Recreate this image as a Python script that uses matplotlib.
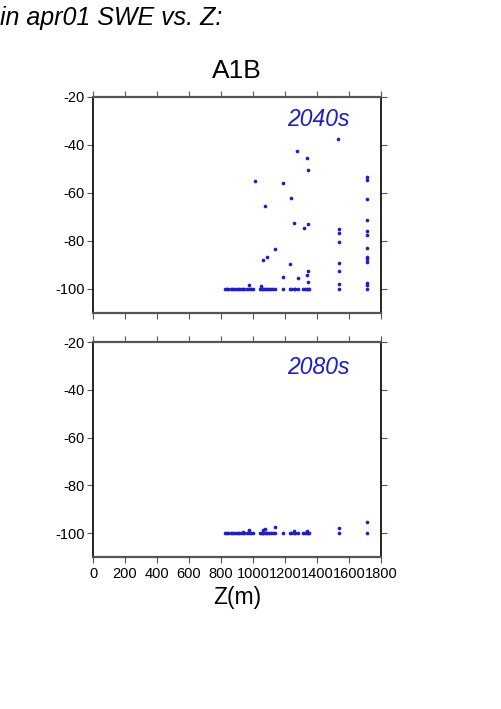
import matplotlib
matplotlib.use("Agg")
import matplotlib.pyplot as plt

plt.rcParams['font.family'] = ['Liberation Sans', 'DejaVu Sans']
plt.rcParams['axes.unicode_minus'] = False

# ---- data ----
# 2040s panel: elevation (m) and % change in apr01 SWE
z_2040_floor = [825, 835, 845, 860, 870, 880, 895, 905, 915, 925, 935, 945, 960,
                975, 990, 1000, 1045, 1055, 1060, 1070, 1080, 1090, 1100, 1110,
                1125, 1140, 1190, 1230, 1240, 1255, 1265, 1280, 1315, 1325, 1335,
                1345, 1350, 1535, 1710]
z_2040_other = [1533, 1277, 1335, 1344, 1012, 1187, 1710, 1710, 1235, 1710, 1073,
                1258, 1319, 1344, 1535, 1535, 1535, 1710, 1710, 1710, 1710, 1710,
                1710, 1710, 1135, 1090, 1062, 1233, 1535, 1535, 1344, 1335, 1190,
                1279, 1344, 973, 1535, 1710, 1710, 1052]
d_2040_other = [-37.6, -42.5, -45.4, -50.6, -54.9, -55.7, -53.5, -54.6, -62.2, -62.4,
                -65.4, -72.5, -74.5, -72.9, -75.0, -76.7, -80.3, -71.3, -75.7, -77.4,
                -82.8, -86.5, -87.5, -88.6, -83.2, -86.7, -87.8, -89.4, -89.0, -92.4,
                -92.6, -94.0, -95.0, -95.4, -97.1, -98.2, -98.0, -97.6, -98.4, -98.8]

# 2080s panel
z_2080_floor = [825, 835, 845, 860, 870, 880, 895, 905, 915, 925, 935, 945, 960,
                975, 990, 1000, 1045, 1055, 1060, 1070, 1080, 1090, 1100, 1110,
                1125, 1140, 1190, 1230, 1240, 1255, 1265, 1280, 1315, 1325, 1335,
                1345, 1350, 1535, 1710]
z_2080_other = [1535, 1710, 1135, 973, 1065, 1077, 936, 1256, 1335]
d_2080_other = [-97.9, -95.3, -97.6, -98.7, -98.7, -98.2, -99.4, -99.3, -99.3]

floor_value = -100
title = "A1B"
header = "in apr01 SWE vs. Z:"
panel_labels = ["2040s", "2080s"]
xlabel = "Z(m)"
xticks = [0, 200, 400, 600, 800, 1000, 1200, 1400, 1600, 1800]
yticks = [-20, -40, -60, -80, -100]

# ---- plotting ----
fig = plt.figure(figsize=(5.01, 7.09), dpi=100)
W, H = 501, 709

def axes_px(x0, y0, x1, y1):
    return fig.add_axes([x0 / W, 1 - y1 / H, (x1 - x0) / W, (y1 - y0) / H])

ax1 = axes_px(93, 97, 381, 313)
ax2 = axes_px(93, 342, 381, 557)

pt_color = '#2020c0'
lab_color = '#1c1cc8'
grey = '#555555'

datasets = [
    (ax1, z_2040_floor, z_2040_other, d_2040_other, panel_labels[0], 0.898),
    (ax2, z_2080_floor, z_2080_other, d_2080_other, panel_labels[1], 0.882),
]

for ax, zf, zo, do, lab, ly in datasets:
    ax.scatter(zf, [floor_value] * len(zf), s=7, color=pt_color, linewidths=0, zorder=3)
    ax.scatter(zo, do, s=7, color=pt_color, linewidths=0, zorder=3)
    ax.set_xlim(0, 1800)
    ax.set_ylim(-110, -20)
    ax.set_xticks(xticks)
    ax.set_yticks(yticks)
    ax.tick_params(axis='x', which='both', direction='out', length=4, width=0.8,
                   color=grey, top=True, bottom=True, labelsize=10.5, pad=3)
    ax.tick_params(axis='y', which='both', direction='out', length=4, width=0.8,
                   color=grey, left=True, right=True, labelsize=10.5, pad=2)
    for s in ['top', 'bottom']:
        ax.spines[s].set_color(grey)
        ax.spines[s].set_linewidth(1.6)
    for s in ['left', 'right']:
        ax.spines[s].set_color('black')
        ax.spines[s].set_linewidth(1.2)
    ax.text(0.892, ly, lab, transform=ax.transAxes, ha='right', va='center',
            fontsize=16.5, style='italic', color=lab_color)

ax1.tick_params(axis='x', labelbottom=False)
ax2.set_xlabel(xlabel, fontsize=16.5, labelpad=4)

fig.text(237 / W, 1 - 71 / H, title, ha='center', va='center', fontsize=19)
fig.text(0 / W, 1 - 18 / H, header, ha='left', va='center', fontsize=18, style='italic')

fig.savefig("out.png", dpi=100)
